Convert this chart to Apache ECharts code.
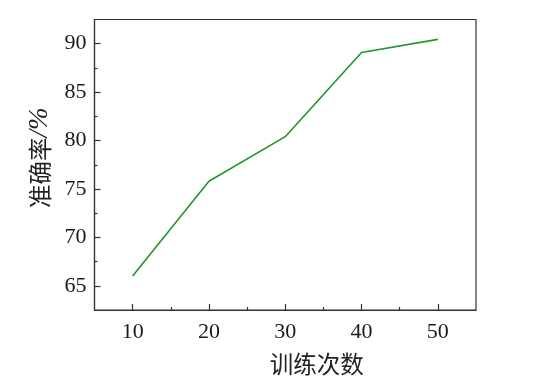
<!DOCTYPE html>
<html><head><meta charset="utf-8">
<script src="https://cdn.jsdelivr.net/npm/echarts@6/dist/echarts.min.js"></script>
<style>html,body{margin:0;padding:0;background:#fff}#c{width:538px;height:382px}</style>
</head><body><div id="c"></div>
<script>
const epochs = [10, 20, 30, 40, 50];
const accuracy = [66.0, 75.8, 80.4, 89.1, 90.45];
const xMajorTicks = [10, 20, 30, 40, 50];
const xMinorTicks = [15, 25, 35, 45];
const yMajorTicks = [65, 70, 75, 80, 85, 90];
const yMinorTicks = [67.5, 72.5, 77.5, 82.5, 87.5];
const xName = '训练次数';
const yNameMain = '准确率';
const yNameUnit = '/%';

const axisColor = '#333';
const serif = '"Liberation Serif","DejaVu Serif",serif';
const cjk = '"Noto Sans CJK SC",sans-serif';

const chart = echarts.init(document.getElementById('c'));
chart.setOption({
  animation: false,
  grid: {left: 94.5, right: 62, top: 19.5, bottom: 72, show: true, borderColor: axisColor, borderWidth: 1.2, backgroundColor: 'transparent'},
  xAxis: [{
    type: 'value', min: 5, max: 55, position: 'bottom',
    name: xName, nameLocation: 'middle', nameGap: 42,
    nameTextStyle: {fontFamily: cjk, fontSize: 23.5, color: '#222', padding: [0, 0, 0, 63]},
    axisLine: {show: true, onZero: false, lineStyle: {color: axisColor, width: 1.2}},
    axisTick: {show: true, inside: true, length: 6, customValues: xMajorTicks, lineStyle: {color: axisColor, width: 1.2}},
    axisLabel: {customValues: xMajorTicks, margin: 11, fontFamily: serif, fontSize: 22, color: '#1a1a1a'},
    splitLine: {show: false}
  }, {
    type: 'value', min: 5, max: 55, position: 'bottom',
    axisLine: {show: false},
    axisTick: {show: true, inside: true, length: 3, customValues: xMinorTicks, lineStyle: {color: axisColor, width: 1.2}},
    axisLabel: {show: false},
    splitLine: {show: false}
  }],
  yAxis: [{
    type: 'value', min: 62.5, max: 92.5, position: 'left',
    name: '{a|' + yNameMain + '}{b|' + yNameUnit + '}', nameLocation: 'middle', nameGap: 40, nameRotate: 90,
    nameTextStyle: {
      color: '#222', padding: [0, 0, 0, 14],
      rich: {
        a: {fontFamily: cjk, fontSize: 23.5, color: '#222'},
        b: {fontFamily: serif, fontSize: 27, fontStyle: 'italic', color: '#222'}
      }
    },
    axisLine: {show: true, onZero: false, lineStyle: {color: axisColor, width: 1.2}},
    axisTick: {show: true, inside: true, length: 6, customValues: yMajorTicks, lineStyle: {color: axisColor, width: 1.2}},
    axisLabel: {customValues: yMajorTicks, margin: 8, fontFamily: serif, fontSize: 22, color: '#1a1a1a'},
    splitLine: {show: false}
  }, {
    type: 'value', min: 62.5, max: 92.5, position: 'left',
    axisLine: {show: false},
    axisTick: {show: true, inside: true, length: 3, customValues: yMinorTicks, lineStyle: {color: axisColor, width: 1.2}},
    axisLabel: {show: false},
    splitLine: {show: false}
  }],
  series: [{
    type: 'line', xAxisIndex: 0, yAxisIndex: 0,
    data: epochs.map((e, i) => [e, accuracy[i]]),
    showSymbol: false, symbol: 'none',
    lineStyle: {color: '#1f962c', width: 1.6}
  }]
});
</script></body></html>
